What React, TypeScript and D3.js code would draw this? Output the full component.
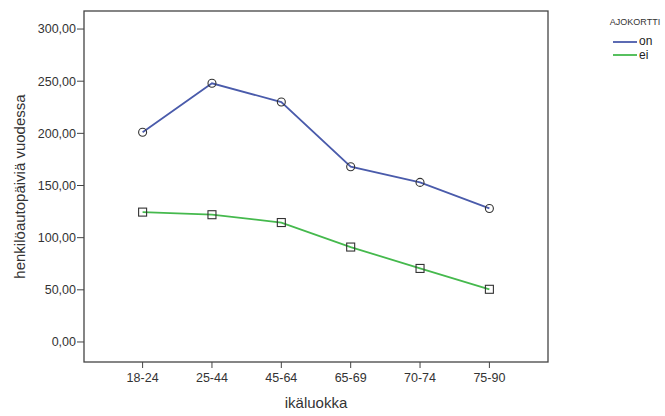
import React from "react";
import * as d3 from "d3";

const categories = ["18-24", "25-44", "45-64", "65-69", "70-74", "75-90"];
const onValues = [201, 248, 230, 168, 153, 128];
const eiValues = [124.5, 122, 114.5, 91, 70.5, 50.5];
const yTicks = [0, 50, 100, 150, 200, 250, 300];
const seriesNames = ["on", "ei"];

const W = 665, H = 416;
const L = 84, R = 548, T = 11, B = 362;
const BLUE = "#4a5bab";
const GREEN = "#45b94d";
const FONT = "'Liberation Sans', Arial, sans-serif";

export default function App() {
  const x = d3.scalePoint<string>().domain(categories).range([L, R]).padding(0.845);
  const y = d3.scaleLinear().domain([-19.2, 317.3]).range([B, T]);
  const line = d3.line<number>().x((_, i) => x(categories[i])!).y((d) => y(d));
  const fmt = (v: number) => v.toFixed(2).replace(".", ",");

  return (
    <svg width={W} height={H} style={{ position: "absolute", left: 0, top: 0, background: "#fff" }} fontFamily={FONT}>
      <rect x={0} y={0} width={W} height={H} fill="#fff" />
      {/* frame */}
      <rect x={L} y={T} width={R - L} height={B - T} fill="none" stroke="#444" strokeWidth={1.3} />
      {/* y axis */}
      {yTicks.map((t) => (
        <g key={t}>
          <line x1={L - 7} x2={L} y1={y(t)} y2={y(t)} stroke="#444" strokeWidth={1} />
          <text x={L - 8} y={y(t)} dy="0.35em" textAnchor="end" fontSize={12.5} fill="#333">
            {fmt(t)}
          </text>
        </g>
      ))}
      {/* x axis */}
      {categories.map((c) => (
        <g key={c}>
          <line x1={x(c)!} x2={x(c)!} y1={B} y2={B + 6} stroke="#444" strokeWidth={1} />
          <text x={x(c)!} y={B + 16} dy="0.35em" textAnchor="middle" fontSize={12.5} fill="#333">
            {c}
          </text>
        </g>
      ))}
      <text x={(L + R) / 2} y={403} dy="0.35em" textAnchor="middle" fontSize={15} fill="#333">
        ikäluokka
      </text>
      <text
        transform={`translate(20,${(T + B) / 2}) rotate(-90)`}
        textAnchor="middle"
        dy="0.35em"
        fontSize={15}
        fill="#333"
      >
        henkilöautopäiviä vuodessa
      </text>
      {/* lines */}
      <path d={line(onValues)!} fill="none" stroke={BLUE} strokeWidth={1.8} />
      <path d={line(eiValues)!} fill="none" stroke={GREEN} strokeWidth={1.8} />
      {onValues.map((v, i) => (
        <circle key={i} cx={x(categories[i])!} cy={y(v)} r={4} fill="none" stroke="#333" strokeWidth={1.1} />
      ))}
      {eiValues.map((v, i) => (
        <rect key={i} x={x(categories[i])! - 4} y={y(v) - 4} width={8} height={8} fill="none" stroke="#333" strokeWidth={1.1} />
      ))}
      {/* legend */}
      <text x={635} y={22} dy="0.35em" textAnchor="middle" fontSize={9} fill="#333">
        AJOKORTTI
      </text>
      {seriesNames.map((n, i) => (
        <g key={n}>
          <line x1={613} x2={637} y1={42 + i * 13} y2={42 + i * 13} stroke={i === 0 ? BLUE : GREEN} strokeWidth={1.8} />
          <text x={639} y={41 + i * 14} dy="0.35em" fontSize={12} fill="#222">
            {n}
          </text>
        </g>
      ))}
    </svg>
  );
}
